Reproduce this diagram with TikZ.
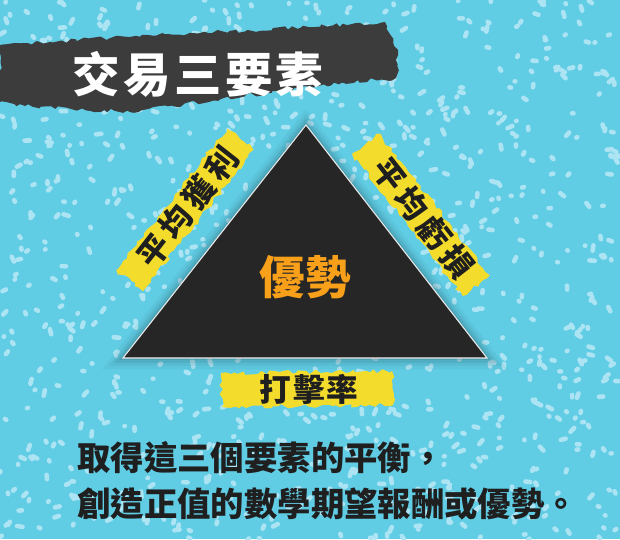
\documentclass[tikz,border=0pt]{standalone}
\usepackage{fontspec}
\newfontfamily\cjk{Noto Sans CJK TC}
\newfontfamily\cjktitle{Noto Sans CJK TC}[LetterSpace=7]
\newfontfamily\cjkwide{Noto Sans CJK TC}[LetterSpace=16]
\usepackage{xcolor}
\definecolor{skyBlue}{HTML}{60CDE5}
\definecolor{speckBlue}{HTML}{ACE4F3}
\definecolor{inkGray}{HTML}{3C3C3C}
\definecolor{markYellow}{HTML}{F4DC2C}
\definecolor{triBlack}{HTML}{262626}
\definecolor{edgeOrange}{HTML}{F9A01B}
\usepackage{tikz}
\usetikzlibrary{decorations.pathmorphing}

\tikzset{
  brush/.style={decorate, decoration={random steps, segment length=2.5pt, amplitude=1.3pt}},
  factor/.style={font=\cjk\bfseries\fontsize{18}{20}\selectfont, text=black!88, inner sep=0pt},
  sidefactor/.style={factor, font=\cjkwide\bfseries\fontsize{18}{20}\selectfont},
  caption/.style={factor, anchor=west, font=\cjk\bfseries\fontsize{19}{21}\selectfont},
  speck/.style={speckBlue, line width=2.6pt, line cap=round},
}

\begin{document}
\begin{tikzpicture}[x=0.02cm, y=-0.02cm]
  \useasboundingbox (0,0) rectangle (620,539);
  \clip (0,0) rectangle (620,539);
  % ---- background with speckles ----
  \fill[skyBlue] (0,0) rectangle (620,539);
  \pgfmathsetseed{11}
  \foreach \i in {1,...,1000}{
    \pgfmathsetmacro\sx{620*rnd}
    \pgfmathsetmacro\sy{539*rnd}
    \pgfmathsetmacro\sa{360*rnd}
    \pgfmathsetmacro\sl{0.5+5*rnd}
    \draw[speck] (\sx,\sy) -- ++(\sa:\sl);
  }
  % ---- title on a dark brush stroke ----
  \fill[inkGray, brush] (0,45) -- (130,37) -- (385,22) -- (398,50) -- (396,78) -- (300,88)
    -- (130,112) -- (25,106) -- (0,102) -- cycle;
  \node[font=\cjktitle\bfseries\fontsize{27}{30}\selectfont, text=white] (title) at (198,74) {交易三要素};
  % ---- the triangle ----
  \coordinate (apex) at (306,125);
  \coordinate (baseL) at (123,358);
  \coordinate (baseR) at (487,358);
  \foreach \k/\o in {16/0.05, 11/0.07, 7/0.09, 3/0.12}
    \fill[black!70!skyBlue, opacity=\o] (306,125-\k) -- (123-1.3*\k,358+0.7*\k) -- (487+1.3*\k,358+0.7*\k) -- cycle;
  \fill[triBlack, draw=white!85!gray, line width=0.6pt] (apex) -- (baseL) -- (baseR) -- cycle;
  \node[font=\cjk\bfseries\fontsize{26}{28}\selectfont, text=edgeOrange] (edge) at (305,277) {優勢};
  % ---- the three factors on yellow strokes ----
  \begin{scope}[shift={(185,210)}, rotate=52]
    \fill[markYellow, brush] (-90,-17) rectangle (90,17);
    \node[sidefactor, rotate=52] (winAvg) at (4,0) {平均獲利};
  \end{scope}
  \begin{scope}[shift={(421,215)}, rotate=-52]
    \fill[markYellow, brush] (-90,-17) rectangle (90,17);
    \node[sidefactor, rotate=-52] (lossAvg) at (4,0) {平均虧損};
  \end{scope}
  \fill[markYellow, brush] (221,373) -- (392,371) -- (393,405) -- (222,407) -- cycle;
  \node[factor, font=\cjktitle\bfseries\fontsize{18}{20}\selectfont] (hitRate) at (309,389) {打擊率};
  % ---- caption ----
  \node[caption] (lineA) at (77,458) {取得這三個要素的平衡，};
  \node[caption] (lineB) at (77,504) {創造正值的數學期望報酬或優勢。};
\end{tikzpicture}
\end{document}
